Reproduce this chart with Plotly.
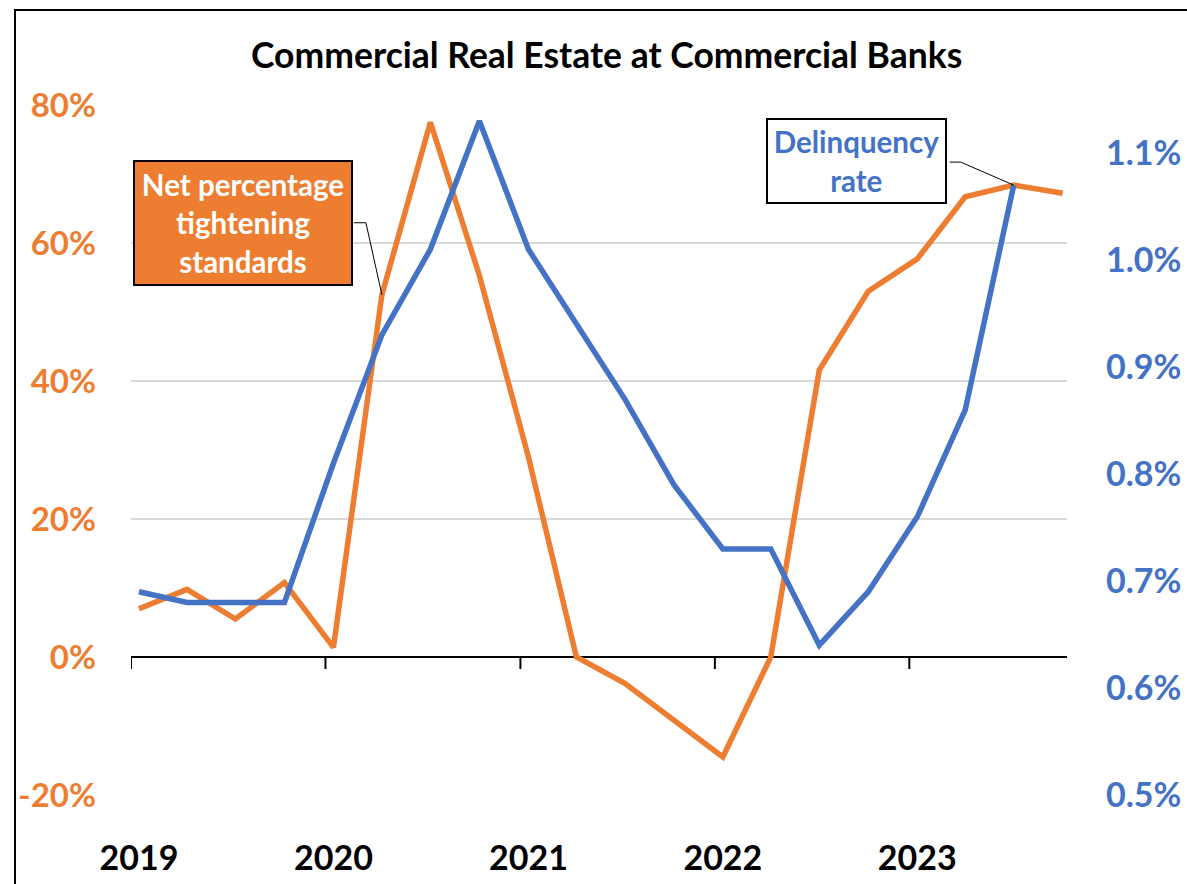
import plotly.graph_objects as go

# ---------------- data ----------------
quarters = [f"{y}-{m:02d}-16" for y in range(2019, 2024) for m in (1, 4, 7, 10)]
tightening = [7.0, 9.8, 5.5, 10.8, 1.4, 52.5, 77.5, 55.3, 29.0, 0.0,
              -3.8, -9.1, -14.5, 0.0, 41.6, 53.0, 57.7, 66.7, 68.4, 67.2]
delinquency = [0.69, 0.68, 0.68, 0.68, 0.81, 0.93, 1.01, 1.13, 1.01, 0.94,
               0.87, 0.79, 0.73, 0.73, 0.64, 0.69, 0.76, 0.86, 1.07]
year_ticks = ["2019", "2020", "2021", "2022", "2023"]
left_ticks = [-20, 0, 20, 40, 60, 80]
right_ticks = [0.5, 0.6, 0.7, 0.8, 0.9, 1.0, 1.1]

ORANGE = "#ED7D31"
BLUE = "#4472C4"
FONT = "Lato"

# plot-area geometry (pixels)
PL, PR, PT, PB = 131, 1067, 105, 795
W, H = PR - PL, PB - PT


def px(x):
    return (x - PL) / W


def py(y):
    return (PB - y) / H


fig = go.Figure()
fig.add_trace(go.Scatter(x=quarters, y=tightening, mode="lines",
                         line=dict(color=ORANGE, width=5.5), yaxis="y",
                         name="Net percentage tightening standards"))
fig.add_trace(go.Scatter(x=quarters[:len(delinquency)], y=delinquency, mode="lines",
                         line=dict(color=BLUE, width=5.5), yaxis="y2",
                         name="Delinquency rate"))

shapes = []
# x-axis tick marks at year starts, hanging below the zero line
for yr in year_ticks:
    shapes.append(dict(type="line", xref="x", yref="y", x0=f"{yr}-01-01", x1=f"{yr}-01-01",
                       ysizemode="pixel", yanchor=0, y0=0, y1=-12,
                       line=dict(color="black", width=2)))
# leader lines
shapes.append(dict(type="path", xref="x", yref="y", xsizemode="pixel", ysizemode="pixel",
                   xanchor=quarters[5], yanchor=tightening[5],
                   path="M -28,72 L -16,72 L 0,0", line=dict(color="black", width=1)))
shapes.append(dict(type="path", xref="x", yref="y2", xsizemode="pixel", ysizemode="pixel",
                   xanchor=quarters[18], yanchor=delinquency[18],
                   path="M -64,23 L -53,23 L 0,0", line=dict(color="black", width=1)))
# chart frame
shapes.append(dict(type="rect", xref="paper", yref="paper",
                   x0=px(15), x1=px(1200), y0=py(10), y1=py(900),
                   line=dict(color="black", width=2), fillcolor="rgba(0,0,0,0)", layer="below"))

annotations = [
    dict(text="Commercial Real Estate at Commercial Banks", xref="paper", yref="paper",
         x=px(606), y=py(55), xanchor="center", yanchor="middle", showarrow=False,
         font=dict(family=FONT, size=35.5, color="black", weight="bold")),
    dict(text="Net percentage<br>tightening<br>standards", xref="paper", yref="paper",
         x=px(243), y=py(223), xanchor="center", yanchor="middle", showarrow=False,
         bgcolor=ORANGE, bordercolor="black", borderwidth=2, borderpad=0,
         width=216, height=122,
         font=dict(family=FONT, size=29.5, color="white", weight="bold")),
    dict(text="Delinquency<br>rate", xref="paper", yref="paper",
         x=px(856), y=py(161), xanchor="center", yanchor="middle", showarrow=False,
         bgcolor="white", bordercolor="black", borderwidth=2, borderpad=0,
         width=177, height=82,
         font=dict(family=FONT, size=29.5, color=BLUE, weight="bold")),
]

fig.update_layout(
    width=1187, height=884,
    margin=dict(l=PL, r=1187 - PR, t=PT, b=884 - PB, autoexpand=False),
    paper_bgcolor="white", plot_bgcolor="white",
    showlegend=False,
    shapes=shapes, annotations=annotations,
    xaxis=dict(range=["2019-01-01", "2023-10-24"], showgrid=False, showline=False,
               zeroline=False, ticks="", automargin=False,
               tickvals=[f"{y}-01-16" for y in year_ticks], ticktext=year_ticks,
               tickfont=dict(family=FONT, size=34, color="black", weight="bold"),
               ticklabelstandoff=40),
    yaxis=dict(range=[-20, 80], tickvals=left_ticks,
               ticktext=[f"{v}%" for v in left_ticks],
               showgrid=True, gridcolor="#D9D9D9", gridwidth=2,
               zeroline=True, zerolinecolor="black", zerolinewidth=2,
               showline=False, ticks="", automargin=False,
               tickfont=dict(family=FONT, size=33, color=ORANGE, weight="bold"),
               ticklabelstandoff=34),
    yaxis2=dict(range=[0.5, 0.5 + 0.1 * 690 / 107], overlaying="y", side="right",
                tickvals=right_ticks, ticktext=[f"{v:.1f}%" for v in right_ticks],
                showgrid=False, zeroline=False, showline=False, ticks="", automargin=False,
                tickfont=dict(family=FONT, size=34, color=BLUE, weight="bold"),
                ticklabelstandoff=38),
)

fig.write_html("out.html")
